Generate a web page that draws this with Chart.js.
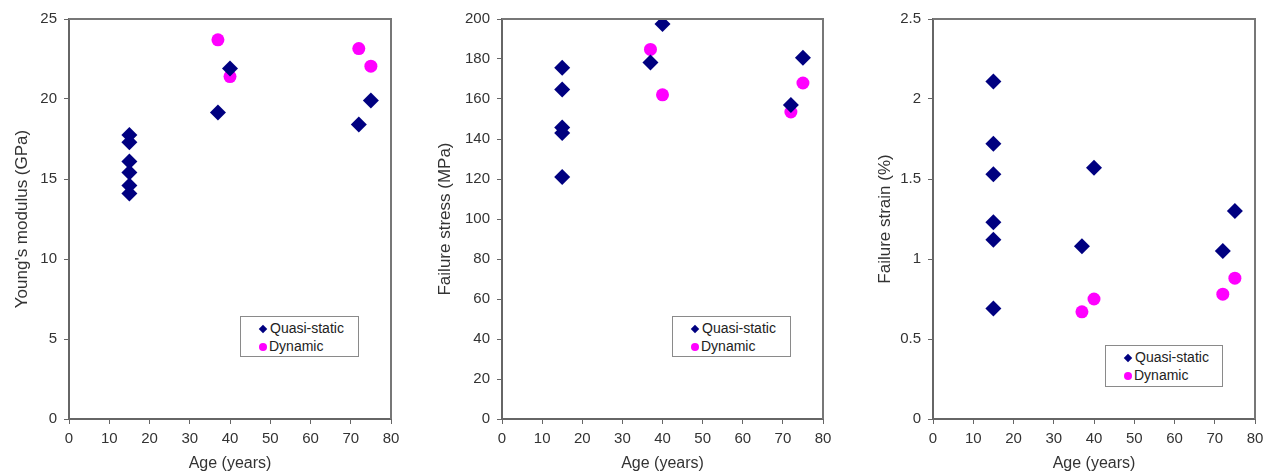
<!DOCTYPE html>
<html lang="en">
<head>
    <meta charset="UTF-8">
    <title>Young's modulus, failure stress and failure strain vs age</title>
    <script src="https://cdn.jsdelivr.net/npm/chart.js"></script>
    <style>
        body { margin: 0; background: #fff; width: 1274px; height: 473px; position: relative; overflow: hidden; font-family: "Liberation Sans", Arial, sans-serif; }
        .panel { position: absolute; top: 0; height: 473px; }
        .legend { position: absolute; background: #fff; border: 1px solid #8a8a8a; box-sizing: border-box; font-size: 14px; color: #222; }
        .legend div { position: absolute; left: 0; white-space: nowrap; line-height: 16px; }
        .dia { display: inline-block; width: 6px; height: 6px; background: #000080; transform: rotate(45deg); margin: 0 4px 1px 19px; vertical-align: middle; }
        .dot { display: inline-block; width: 8px; height: 8px; border-radius: 50%; background: #ff00ff; margin: 0 2px 1px 18px; vertical-align: middle; }
    </style>
    <script>
        // x values (age in years)
        const quasiAgeE = [15, 15, 15, 15, 15, 15, 37, 40, 72, 75];
        const dynAgeE = [37, 40, 72, 75];
        const quasiAgeS = [15, 15, 15, 15, 15, 37, 40, 72, 75];
        const dynAgeS = [37, 40, 72, 75];
        const quasiAgeF = [15, 15, 15, 15, 15, 15, 37, 40, 72, 75];
        const dynAgeF = [37, 40, 72, 75];

        // Young's modulus (GPa)
        const quasiModulus = [17.75, 17.3, 16.1, 15.4, 14.6, 14.1, 19.15, 21.9, 18.4, 19.9];
        const dynModulus = [23.7, 21.4, 23.15, 22.05];
        // Failure stress (MPa)
        const quasiStress = [175.6, 164.8, 145.8, 143, 121, 178.3, 197.5, 157, 180.6];
        const dynStress = [184.8, 162.1, 153.5, 168];
        // Failure strain (%)
        const quasiStrain = [2.11, 1.72, 1.53, 1.23, 1.12, 0.69, 1.08, 1.57, 1.05, 1.30];
        const dynStrain = [0.67, 0.75, 0.78, 0.88];

        const yTitles = ["Young's modulus (GPa)", 'Failure stress (MPa)', 'Failure strain (%)'];
        const yMax = [25, 200, 2.5];
        const yStep = [5, 20, 0.5];
        const legendNames = ['Quasi-static', 'Dynamic'];

        const tickFont = { family: '"Liberation Sans", Arial, sans-serif', size: 15 };
        const xTitleFont = { family: '"Liberation Sans", Arial, sans-serif', size: 16 };
        const yTitleFont = { family: '"Liberation Sans", Arial, sans-serif', size: 17 };

        function pts(xs, ys) {
            return ys.map((y, i) => ({ x: xs[i], y: y }));
        }

        // top and right edges of the plot frame
        const framePlugin = {
            id: 'frame',
            afterDraw(chart) {
                const a = chart.chartArea;
                const ctx = chart.ctx;
                ctx.save();
                ctx.strokeStyle = '#777';
                ctx.lineWidth = 2;
                ctx.beginPath();
                ctx.moveTo(a.left, a.top);
                ctx.lineTo(a.right, a.top);
                ctx.lineTo(a.right, a.bottom);
                ctx.stroke();
                ctx.restore();
            }
        };

        function makeChart(id, idx, quasi, dyn, yWidth, rightPad, titlePad) {
            const ctx = document.getElementById(id).getContext('2d');
            return new Chart(ctx, {
                type: 'scatter',
                data: {
                    datasets: [
                        {
                            label: legendNames[0],
                            data: quasi,
                            pointStyle: 'rectRot',
                            pointRadius: 8,
                            backgroundColor: '#000080',
                            borderColor: '#000080',
                            borderWidth: 0
                        },
                        {
                            label: legendNames[1],
                            data: dyn,
                            pointStyle: 'circle',
                            pointRadius: 6.5,
                            backgroundColor: '#ff00ff',
                            borderColor: '#ff00ff',
                            borderWidth: 0
                        }
                    ]
                },
                options: {
                    responsive: false,
                    animation: false,
                    devicePixelRatio: 1,
                    layout: { padding: { top: 19, right: rightPad, left: 0, bottom: 0 } },
                    plugins: { legend: { display: false }, tooltip: { enabled: false } },
                    scales: {
                        x: {
                            type: 'linear',
                            min: 0,
                            max: 80,
                            ticks: { stepSize: 10, font: tickFont, color: '#333', padding: 6, maxRotation: 0 },
                            grid: { drawOnChartArea: false, tickLength: 5, color: '#666' },
                            border: { color: '#666', width: 2 },
                            title: { display: true, text: 'Age (years)', font: xTitleFont, color: '#333', padding: 0 },
                            afterFit(s) { s.height = 54; }
                        },
                        y: {
                            min: 0,
                            max: yMax[idx],
                            ticks: {
                                stepSize: yStep[idx], font: tickFont, color: '#333', padding: 7,
                                callback: v => String(Math.round(v * 100) / 100)
                            },
                            grid: { drawOnChartArea: false, tickLength: 5, color: '#666' },
                            border: { color: '#666', width: 2 },
                            title: { display: true, text: yTitles[idx], font: yTitleFont, color: '#333', padding: titlePad },
                            afterFit(s) { s.width = yWidth; }
                        }
                    }
                },
                plugins: [framePlugin]
            });
        }

        document.addEventListener('DOMContentLoaded', function () {
            makeChart('c1', 0, pts(quasiAgeE, quasiModulus), pts(dynAgeE, dynModulus), 69, 29, 12);
            makeChart('c2', 1, pts(quasiAgeS, quasiStress), pts(dynAgeS, dynStress), 82, 27, 15);
            makeChart('c3', 2, pts(quasiAgeF, quasiStrain), pts(dynAgeF, dynStrain), 83, 19, 25);
        });
    </script>
</head>
<body>
    <div class="panel" style="left:0;width:420px"><canvas id="c1" width="420" height="473"></canvas></div>
    <div class="panel" style="left:420px;width:430px"><canvas id="c2" width="430" height="473"></canvas></div>
    <div class="panel" style="left:850px;width:424px"><canvas id="c3" width="424" height="473"></canvas></div>

    <div class="legend" style="left:240px;top:316px;width:119px;height:41px">
        <div style="top:3px"><span class="dia"></span>Quasi-static</div>
        <div style="top:21px"><span class="dot"></span>Dynamic</div>
    </div>
    <div class="legend" style="left:672px;top:316px;width:119px;height:41px">
        <div style="top:3px"><span class="dia"></span>Quasi-static</div>
        <div style="top:21px"><span class="dot"></span>Dynamic</div>
    </div>
    <div class="legend" style="left:1105px;top:345px;width:118px;height:42px">
        <div style="top:3px"><span class="dia"></span>Quasi-static</div>
        <div style="top:21px"><span class="dot"></span>Dynamic</div>
    </div>
</body>
</html>
